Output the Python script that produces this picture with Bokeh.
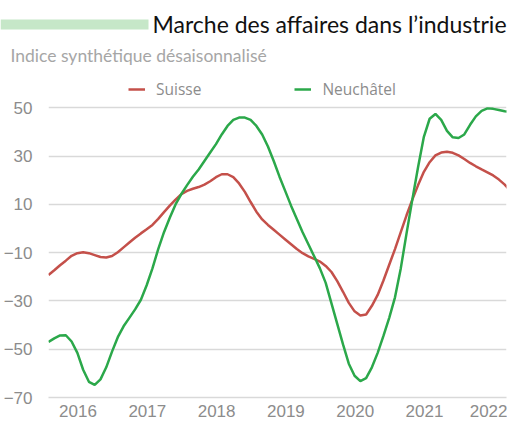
from bokeh.plotting import figure
from bokeh.layouts import column
from bokeh.models import (Label, Legend, LegendItem, FixedTicker, ColumnDataSource,
                          BoxAnnotation, Range1d)
from bokeh.embed import file_html
from bokeh.resources import INLINE

# ---- data (monthly) ----
start_year = 2015.574
suisse = [-19.2, -17.3, -15.2, -13.3, -11.3, -10.2, -9.8, -10.2, -11.0, -11.8,
          -12.0, -11.4, -9.8, -7.8, -5.8, -3.8, -2.0, -0.3, 1.5, 4.0,
          6.8, 9.5, 12.0, 14.2, 15.6, 16.5, 17.2, 18.2, 19.6, 21.3,
          22.5, 22.5, 21.3, 18.7, 15.2, 11.0, 7.0, 3.8, 1.5, -0.5,
          -2.5, -4.5, -6.5, -8.5, -10.2, -11.5, -12.6, -13.7, -15.5, -18.0,
          -21.8, -26.2, -30.8, -34.3, -36.0, -35.6, -32.0, -27.5, -21.5, -15.0,
          -8.5, -1.5, 5.5, 12.0, 18.0, 23.5, 27.5, 30.3, 31.5, 31.8,
          31.4, 30.3, 28.8, 27.2, 25.8, 24.5, 23.3, 22.0, 20.3, 18.2,
          15.5, 12.5]
neuchatel = [-47.0, -45.5, -44.3, -44.2, -46.8, -51.5, -58.5, -63.5, -64.8, -62.5,
             -57.5, -51.0, -45.0, -40.5, -37.0, -33.5, -29.5, -23.5, -16.5, -8.5,
             -1.5, 4.5, 10.0, 14.3, 18.0, 21.5, 24.5, 28.0, 31.5, 35.0,
             39.0, 42.5, 45.0, 46.0, 46.0, 45.0, 42.5, 39.0, 34.0, 28.0,
             21.5, 15.5, 9.5, 4.0, -1.5, -6.5, -11.5, -16.5, -22.5, -31.0,
             -39.5, -48.0, -56.0, -61.0, -63.2, -62.0, -57.5, -51.5, -44.5, -37.0,
             -28.5, -16.5, -2.0, 12.0, 25.5, 38.0, 45.5, 47.5, 45.0, 40.5,
             37.8, 37.5, 39.0, 43.0, 46.5, 48.8, 49.8, 49.6, 49.1, 48.6,
             48.3, 48.0]
year_ticks = [2016, 2017, 2018, 2019, 2020, 2021, 2022]
y_ticks = [-70, -50, -30, -10, 10, 30, 50]
series_names = ["Suisse", "Neuchâtel"]
title_text = "Marche des affaires dans l\u2019industrie"
subtitle_text = "Indice synthétique désaisonnalisé"

RED = "#c4504a"
GREEN = "#2ba84a"
GREY = "#8c8c8c"

x = [start_year + i / 12 for i in range(len(suisse))]
src = ColumnDataSource(dict(x=x, suisse=suisse, neuchatel=neuchatel))

# ---------------- header ----------------
hp = figure(width=507, height=75, output_backend="svg", toolbar_location=None,
            title=None, x_axis_location=None, y_axis_location=None,
            x_range=Range1d(0, 1), y_range=Range1d(0, 1),
            min_border=0, min_border_left=0, min_border_right=0,
            min_border_top=0, min_border_bottom=0)
hp.grid.visible = False
hp.outline_line_color = None

hp.add_layout(BoxAnnotation(left=0, right=148, top=56, bottom=46,
                            left_units="screen", right_units="screen",
                            top_units="screen", bottom_units="screen",
                            fill_color="#c6e7c8", fill_alpha=1, line_color=None))
hp.add_layout(Label(x=152, y=52, x_units="screen", y_units="screen",
                    text=title_text, text_font="Lato",
                    text_font_size="23px", text_color="#111111",
                    text_baseline="alphabetic"))
hp.add_layout(Label(x=10, y=20, x_units="screen", y_units="screen",
                    text=subtitle_text, text_font="Lato",
                    text_font_size="17.5px", text_color="#a6a6a6",
                    text_baseline="alphabetic"))

# ---------------- chart ----------------
p = figure(width=507, height=344, output_backend="svg", toolbar_location=None,
           title=None,
           x_range=Range1d(start_year, 2022.183), y_range=Range1d(-70, 63.42),
           min_border_left=48, min_border_right=1, min_border_top=0,
           min_border_bottom=21)
p.outline_line_color = None

r1 = p.line("x", "suisse", source=src, line_color=RED, line_width=2.5)
r2 = p.line("x", "neuchatel", source=src, line_color=GREEN, line_width=2.5)

p.xaxis.ticker = FixedTicker(ticks=year_ticks)
p.yaxis.ticker = FixedTicker(ticks=y_ticks)
p.xgrid.grid_line_color = None
p.ygrid.grid_line_color = "#d9d9d9"
p.ygrid.grid_line_width = 1.3
for ax in (p.xaxis[0], p.yaxis[0]):
    ax.major_tick_line_color = None
    ax.minor_tick_line_color = None
    ax.major_label_text_font = "Liberation Sans"
    ax.major_label_text_font_size = "17px"
    ax.major_label_text_color = GREY
p.xaxis.axis_line_color = "#d9d9d9"
p.xaxis.axis_line_width = 1.3
p.yaxis.axis_line_color = None
p.yaxis.major_label_standoff = 10
p.xaxis.major_label_standoff = 1

legend = Legend(items=[LegendItem(label=series_names[0], renderers=[r1]),
                       LegendItem(label=series_names[1], renderers=[r2])],
                orientation="horizontal", location=(80, 297),
                glyph_width=17, glyph_height=20, label_height=20,
                label_standoff=11, spacing=93,
                padding=0, margin=0, border_line_color=None,
                background_fill_alpha=0,
                label_text_font="Open Sans", label_text_font_size="15.5px",
                label_text_color=GREY)
p.add_layout(legend, "center")

for fig in (hp, p):
    try:
        fig.frame_align = False
    except Exception:
        pass

layout = column(hp, p, spacing=0)
open("out.html", "w").write(file_html(layout, INLINE))
